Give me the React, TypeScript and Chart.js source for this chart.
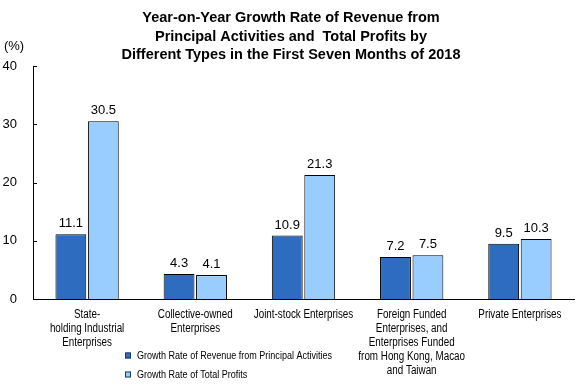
import React, { useEffect, useRef } from "react";
import { Chart, registerables } from "chart.js";

Chart.register(...registerables);

const titleLines = [
  "Year-on-Year Growth Rate of Revenue from",
  "Principal Activities and  Total Profits by",
  "Different Types in the First Seven Months of 2018",
];
const unitLabel = "(%)";
const categories: (string | string[])[] = [
  ["State-", "holding Industrial", "Enterprises"],
  ["Collective-owned", "Enterprises"],
  "Joint-stock Enterprises",
  ["Foreign Funded", "Enterprises, and", "Enterprises Funded", "from Hong Kong, Macao", "and Taiwan"],
  "Private Enterprises",
];
const seriesNames = [
  "Growth Rate of Revenue from Principal Activities",
  "Growth Rate of Total Profits",
];
const revenueGrowth = [11.1, 4.3, 10.9, 7.2, 9.5];
const profitGrowth = [30.5, 4.1, 21.3, 7.5, 10.3];
const yTicks = [0, 10, 20, 30, 40];

const DARK = "#2E6CBF";
const LIGHT = "#99CCFF";

export default function App() {
  const ref = useRef<HTMLCanvasElement | null>(null);

  useEffect(() => {
    document.body.style.margin = "0";
    const baseFamily = "'Liberation Sans', Arial, sans-serif";
    const squeeze = 0.82;

    const overlay = {
      id: "overlay",
      afterDraw(chart: any) {
        const ctx = chart.ctx;
        ctx.save();
        // title
        ctx.fillStyle = "#000";
        ctx.font = `bold 14.5px ${baseFamily}`;
        ctx.textAlign = "center";
        ctx.textBaseline = "middle";
        const tys = [18, 36.5, 55];
        titleLines.forEach((t, i) => ctx.fillText(t, 291, tys[i]));
        // unit
        ctx.font = `13px ${baseFamily}`;
        ctx.fillText(unitLabel, 14, 46);
        // inward ticks
        const ys = chart.scales.y;
        const xa = chart.scales.x;
        ctx.strokeStyle = "#000";
        ctx.lineWidth = 1;
        yTicks.forEach((v) => {
          const py = Math.round(ys.getPixelForValue(v)) + 0.5;
          ctx.beginPath();
          ctx.moveTo(ys.right, py);
          ctx.lineTo(ys.right + 4, py);
          ctx.stroke();
        });
        // category labels (condensed)
        ctx.font = `12px ${baseFamily}`;
        ctx.textAlign = "center";
        ctx.textBaseline = "middle";
        ctx.fillStyle = "#000";
        (chart.data.labels as any[]).forEach((lab: any, i: number) => {
          const lines = Array.isArray(lab) ? lab : [lab];
          const x = xa.getPixelForTick(i);
          lines.forEach((ln: string, j: number) => {
            ctx.save();
            ctx.translate(x, xa.top + 15.5 + j * 14);
            ctx.scale(squeeze, 1);
            ctx.fillText(ln, 0, 0);
            ctx.restore();
          });
        });
        // data labels
        ctx.font = `13px ${baseFamily}`;
        ctx.textAlign = "center";
        ctx.textBaseline = "alphabetic";
        chart.data.datasets.forEach((ds: any, di: number) => {
          const meta = chart.getDatasetMeta(di);
          meta.data.forEach((el: any, i: number) => {
            ctx.fillText(String(ds.data[i].toFixed(1)), el.x, el.y - 7);
          });
        });
        // legend
        const lx = 125;
        const lys = [355.5, 374.5];
        ctx.font = `11px ${baseFamily}`;
        ctx.textAlign = "left";
        ctx.textBaseline = "middle";
        chart.data.datasets.forEach((ds: any, di: number) => {
          const y = lys[di];
          ctx.fillStyle = ds.backgroundColor;
          ctx.fillRect(lx, y - 3, 6, 6);
          ctx.strokeStyle = "#1F3A60";
          ctx.strokeRect(lx + 0.5, y - 2.5, 5, 5);
          ctx.fillStyle = "#000";
          ctx.save();
          ctx.translate(lx + 12, y);
          ctx.scale(squeeze, 1);
          ctx.fillText(ds.label, 0, 0);
          ctx.restore();
        });
        ctx.restore();
      },
    };

    const chart = new Chart(ref.current as HTMLCanvasElement, {
      type: "bar",
      data: {
        labels: categories,
        datasets: [
          {
            label: seriesNames[0],
            data: revenueGrowth,
            backgroundColor: DARK,
            borderColor: "#000",
            borderWidth: 1,
            categoryPercentage: 0.6,
            barPercentage: 0.95,
          },
          {
            label: seriesNames[1],
            data: profitGrowth,
            backgroundColor: LIGHT,
            borderColor: "#000",
            borderWidth: 1,
            categoryPercentage: 0.6,
            barPercentage: 0.95,
          },
        ],
      },
      options: {
        responsive: false,
        animation: false,
        devicePixelRatio: 1,
        layout: { padding: { top: 66, left: 0, right: 5, bottom: 0 } },
        plugins: {
          legend: { display: false },
          title: { display: false },
          tooltip: { enabled: false },
        },
        scales: {
          x: {
            grid: { display: false, drawTicks: false },
            border: { display: true, color: "#000", width: 1 },
            ticks: { display: false },
            afterFit(scale: any) {
              scale.height = 86;
            },
          },
          y: {
            min: 0,
            max: 40,
            grid: { display: false, drawTicks: false },
            border: { display: true, color: "#000", width: 1 },
            ticks: {
              stepSize: 10,
              padding: 16,
              color: "#000",
              font: { family: baseFamily, size: 13 },
            },
            afterFit(scale: any) {
              scale.width = 33;
            },
          },
        },
      },
      plugins: [overlay],
    });
    return () => chart.destroy();
  }, []);

  return <canvas ref={ref} width={579} height={385} style={{ display: "block" }} />;
}
